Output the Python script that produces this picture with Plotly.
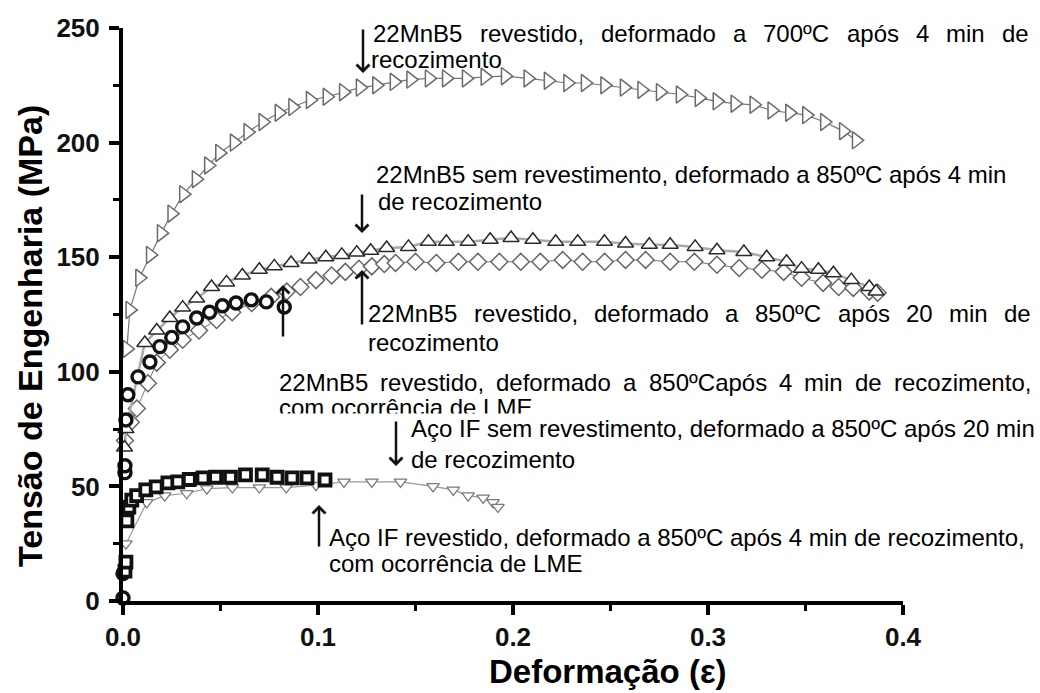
import plotly.graph_objects as go

# ---------------- data ----------------
# 22MnB5 revestido, 700 C, 4 min (right triangles)
a_x = [0.002, 0.0035, 0.0085, 0.014, 0.0196, 0.025, 0.031, 0.0375, 0.0438, 0.0495,
       0.057, 0.064, 0.0717, 0.080, 0.087, 0.096, 0.1046, 0.113, 0.1216, 0.130,
       0.139, 0.1475, 0.157, 0.1658, 0.176, 0.1856, 0.196, 0.2076, 0.218, 0.228,
       0.237, 0.247, 0.257, 0.266, 0.2755, 0.2857, 0.2954, 0.3046, 0.3138, 0.3235,
       0.3327, 0.3418, 0.3505, 0.3597, 0.3694, 0.376]
a_y = [110, 127, 141, 151, 160.5, 169, 177.5, 184, 190, 195.5,
       200, 204.6, 209, 213, 215.5, 218.6, 220, 222, 224, 225,
       226.5, 227.5, 228, 228, 228, 228.7, 229, 228, 227, 226,
       226, 225, 224, 223, 222, 221, 219.5, 218, 217, 216.5,
       214, 213, 212, 209, 205, 201]

# 22MnB5 sem revestimento, 850 C, 4 min (up triangles)
b_x = [0.0008, 0.0015, 0.0112, 0.0173, 0.0240, 0.0306, 0.0378, 0.0454, 0.0531, 0.0612,
       0.0699, 0.0776, 0.0862, 0.0954, 0.104, 0.1122, 0.1199, 0.127, 0.1352, 0.1464,
       0.1566, 0.1658, 0.1770, 0.1883, 0.1990, 0.2102, 0.2219, 0.2332, 0.2469, 0.2577,
       0.2699, 0.2806, 0.2934, 0.3046, 0.3184, 0.3301, 0.3403, 0.3480, 0.3566, 0.3643,
       0.3735, 0.3827, 0.3862]
b_y = [67, 75, 112.6, 118, 123.5, 128, 132, 137, 139, 142,
       144.5, 146, 147.5, 149, 150, 151, 152, 152.8, 154, 154.5,
       156.7, 156.7, 156.7, 157.6, 158.4, 157.6, 156.7, 156.7, 156.7, 156,
       155.4, 155.4, 154.5, 153, 152.3, 150, 148, 145, 144.5, 143,
       140, 137, 135]

# 22MnB5 revestido, 850 C, 20 min (diamonds)
c_x = [0.001, 0.004, 0.0071, 0.0128, 0.0173, 0.024, 0.0306, 0.039, 0.048, 0.056,
       0.066, 0.076, 0.084, 0.091, 0.099, 0.107, 0.114, 0.121, 0.1276, 0.134,
       0.1398, 0.150, 0.1607, 0.172, 0.182, 0.193, 0.204, 0.214, 0.2255, 0.2357,
       0.247, 0.2577, 0.268, 0.2806, 0.293, 0.3046, 0.316, 0.3276, 0.3388, 0.348,
       0.359, 0.367, 0.3745, 0.3827, 0.387]
c_y = [70, 78, 84, 95, 104, 109.6, 114, 118, 122.6, 126,
       130, 132.7, 135, 137, 140, 142, 143.6, 145, 146, 147,
       147.5, 148, 147.5, 148, 148, 148, 148, 148, 148.8, 148,
       148, 148.8, 148.8, 148, 148, 146.7, 145.3, 144.5, 143.6, 141,
       138.8, 137, 136.6, 135, 134.5]

# 22MnB5 revestido, 850 C, 4 min, LME (circles)
d_x = [0.0, 0.0, 0.001, 0.001, 0.0015, 0.0025, 0.0077, 0.0138, 0.0189, 0.025,
       0.0306, 0.0378, 0.0444, 0.051, 0.058, 0.0658, 0.0735, 0.0827]
d_y = [1.3, 12, 56, 59, 79, 90, 97.8, 104.3, 111, 115,
       119.6, 123.5, 126, 128.8, 130, 131.4, 130.5, 128.3]

# Aco IF sem revestimento, 850 C, 20 min (down triangles)
e_x = [0.0015, 0.0122, 0.0214, 0.0327, 0.043, 0.0561, 0.0699, 0.0837, 0.0990, 0.1133,
       0.1276, 0.1423, 0.159, 0.1694, 0.177, 0.1847, 0.1898, 0.1923]
e_y = [25, 43, 46, 47, 49, 49.5, 49.5, 49.5, 50.5, 52,
       52, 52, 50, 48.5, 46, 45, 43, 41]

# Aco IF revestido, 850 C, 4 min, LME (squares)
f_x = [0.001, 0.0015, 0.002, 0.003, 0.0045, 0.007, 0.0117, 0.017, 0.023, 0.0281,
       0.034, 0.041, 0.0475, 0.0551, 0.0628, 0.0714, 0.079, 0.0867, 0.0944, 0.1036]
f_y = [13, 17, 35, 41, 44, 46, 48.5, 49.8, 51.5, 52,
       53, 53.7, 54, 54, 55, 55, 54, 53.7, 53.7, 52.8]

x_ticks = [0.0, 0.1, 0.2, 0.3, 0.4]
y_ticks = [0, 50, 100, 150, 200, 250]

# ---------------- figure ----------------
W, H = 1040, 693
PX0, PX1, PY0, PY1 = 123, 903, 601, 28

fig = go.Figure()


def add_series(x, y, symbol, size, mcolor, mlw, lcolor, lw):
    fig.add_trace(go.Scatter(
        x=x, y=y, mode="lines+markers" if lw > 0 else "markers",
        line=dict(color=lcolor, width=lw),
        marker=dict(symbol=symbol, size=size, color="white",
                    line=dict(color=mcolor, width=mlw)),
        cliponaxis=False, showlegend=False, hoverinfo="skip"))


add_series(a_x, a_y, "triangle-right", 15, "#6a6a6a", 1.5, "#777777", 1.2)
add_series(c_x, c_y, "diamond", 13, "#666666", 1.5, "#777777", 1.0)
add_series(b_x, b_y, "triangle-up", 14, "#2a2a2a", 1.5, "#aaaaaa", 2.5)
add_series(d_x, d_y, "circle", 12, "#111111", 3.4, "#111111", 0)
add_series(e_x, e_y, "triangle-down", 11, "#7a7a7a", 1.3, "#999999", 1.2)
add_series(f_x, f_y, "square", 11, "#111111", 3.8, "#111111", 0)

ann_font = "Liberation Sans, Arial, sans-serif"
FS = 24

# Arial advance widths (per 1000 em)
CW = {' ': 278, ',': 278, '.': 278, 'a': 556, 'b': 556, 'c': 500, 'd': 556, 'e': 556,
      'f': 278, 'g': 556, 'h': 556, 'i': 222, 'l': 222, 'm': 833, 'n': 556, 'o': 556,
      'p': 556, 'r': 333, 's': 500, 't': 278, 'u': 556, 'v': 500, 'z': 500,
      'A': 667, 'B': 667, 'C': 722, 'E': 667, 'F': 611, 'I': 278, 'L': 556, 'M': 833,
      'ç': 500, 'ã': 556, 'ê': 556, 'ó': 556, 'º': 365}


def tw(s):
    return sum(CW.get(ch, 556) for ch in s) * FS / 1000.0


def pxp(x):
    return (x - PX0) / (PX1 - PX0)


def pyp(y):
    return (PY0 - y) / (PY0 - PY1)


annotations = []


def text_line(s, x_left, y_mid, x_right=None):
    if x_right is None:
        annotations.append(dict(text=s, x=pxp(x_left), y=pyp(y_mid), xref="paper", yref="paper",
                                xanchor="left", yanchor="middle", showarrow=False,
                                font=dict(family=ann_font, size=FS, color="black"), borderpad=0))
        return
    words = s.split(" ")
    widths = [tw(w) for w in words]
    gap = (x_right - x_left - sum(widths)) / (len(words) - 1)
    x = x_left
    for w, wd in zip(words, widths):
        annotations.append(dict(text=w, x=pxp(x), y=pyp(y_mid), xref="paper", yref="paper",
                                xanchor="left", yanchor="middle", showarrow=False,
                                font=dict(family=ann_font, size=FS, color="black"), borderpad=0))
        x += wd + gap


def arrow(x_px, tip_py, tail_py):
    annotations.append(dict(text="", x=pxp(x_px), y=pyp(tip_py), xref="paper", yref="paper",
                            ax=0, ay=tail_py - tip_py, showarrow=True, arrowhead=4,
                            arrowsize=1, arrowwidth=2.5, arrowcolor="#111111"))


def white_box(x_left, x_right, y_top, y_bottom):
    annotations.append(dict(text=" ", x=pxp(x_left), y=pyp(y_top), xref="paper", yref="paper",
                            xanchor="left", yanchor="top", showarrow=False,
                            width=x_right - x_left, height=y_bottom - y_top,
                            bgcolor="white", borderpad=0, font=dict(size=4)))


# annotation 1
arrow(363, 73, 28)
text_line("22MnB5 revestido, deformado a 700ºC após 4 min de", 372, 33, 1028)
text_line("recozimento", 370, 59)
# annotation 2
arrow(362, 233, 193)
text_line("22MnB5 sem revestimento, deformado a 850ºC após 4 min", 375, 174)
text_line("de recozimento", 377, 201)
# annotation 3
arrow(362, 270, 326)
text_line("22MnB5 revestido, deformado a 850ºC após 20 min de", 367, 313, 1030)
text_line("recozimento", 367, 342)
# annotation 4
arrow(283, 285, 338)
text_line("22MnB5 revestido, deformado a 850ºCapós 4 min de recozimento,", 278, 382, 1030)
text_line("com ocorrência de LME", 278, 407)
white_box(270, 1040, 413, 418)
# annotation 5
arrow(396, 466, 420)
text_line("Aço IF sem revestimento, deformado a 850ºC após 20 min", 410, 428)
text_line("de recozimento", 410, 459)
# annotation 6
arrow(319, 505, 548)
text_line("Aço IF revestido, deformado a 850ºC após 4 min de recozimento,", 328, 537)
text_line("com ocorrência de LME", 328, 563)

# axis titles
annotations.append(dict(text="Tensão de Engenharia (MPa)", x=pxp(30), y=pyp(336),
                        xref="paper", yref="paper", showarrow=False, textangle=-90,
                        xanchor="center", yanchor="middle",
                        font=dict(family="Liberation Sans, Arial, sans-serif", size=34,
                                  color="black", weight="bold")))
annotations.append(dict(text="Deformação (ε)", x=pxp(608), y=pyp(671),
                        xref="paper", yref="paper", showarrow=False,
                        xanchor="center", yanchor="middle",
                        font=dict(family="Liberation Sans, Arial, sans-serif", size=33,
                                  color="black", weight="bold")))

tick_font = dict(family="Liberation Sans, Arial, sans-serif", size=26, color="#111111", weight="bold")

fig.update_layout(
    width=W, height=H,
    margin=dict(l=PX0, r=W - PX1, t=PY1, b=H - PY0, pad=0),
    paper_bgcolor="white", plot_bgcolor="white",
    annotations=annotations,
    xaxis=dict(range=[0, 0.4], tickvals=x_ticks, tickformat=".1f",
               showline=True, linewidth=4, linecolor="black", mirror=False,
               ticks="outside", ticklen=10, tickwidth=4, tickcolor="black",
               tickfont=tick_font, showgrid=False, zeroline=False,
               minor=dict(dtick=0.05, ticks="outside", ticklen=6, tickwidth=3, tickcolor="black")),
    yaxis=dict(range=[0, 250], tickvals=y_ticks,
               showline=True, linewidth=4, linecolor="black", mirror=False,
               ticks="outside", ticklen=10, tickwidth=4, tickcolor="black",
               tickfont=tick_font, showgrid=False, zeroline=False,
               ticklabelstandoff=4,
               minor=dict(dtick=25, ticks="outside", ticklen=6, tickwidth=3, tickcolor="black")),
)

fig.write_html("out.html")
